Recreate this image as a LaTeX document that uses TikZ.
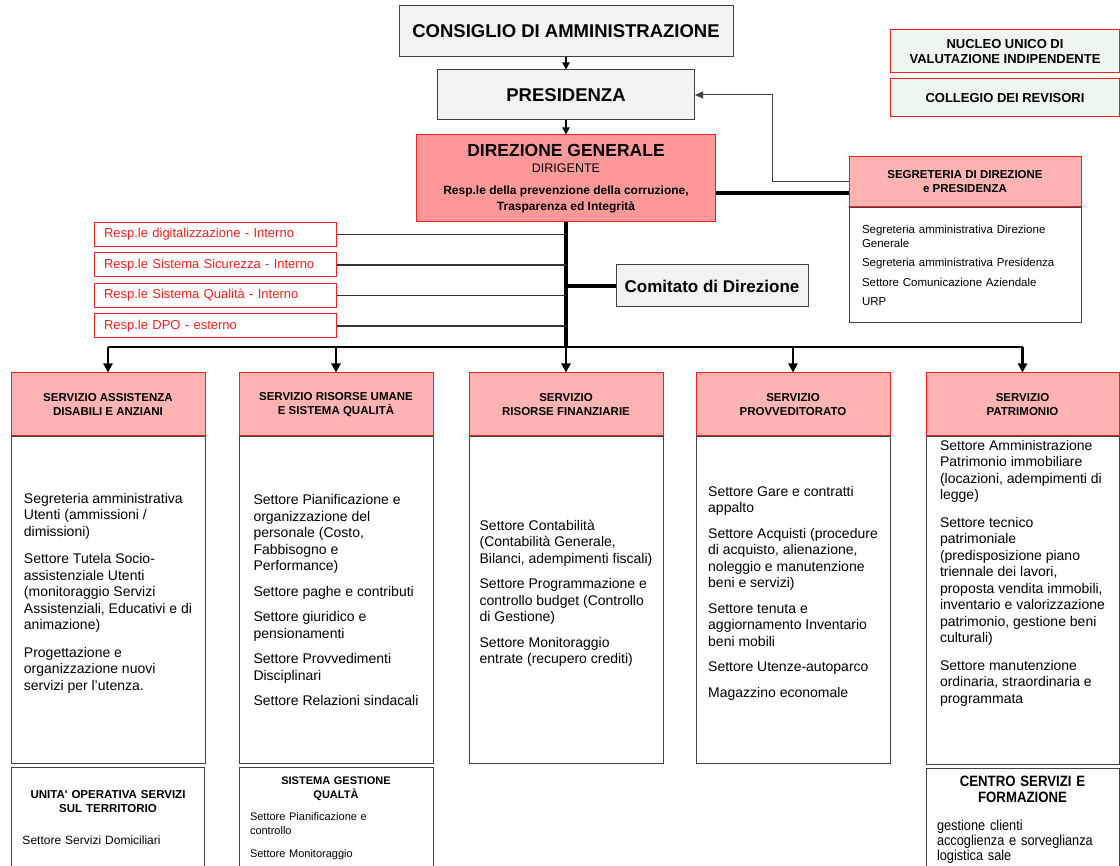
\documentclass[tikz,border=0pt]{standalone}
\usepackage{fontspec}
\setmainfont{Liberation Sans}
\newfontfamily\narrowfont[FakeStretch=0.88]{Liberation Sans}
\usepackage{tikz}
\usetikzlibrary{positioning,arrows.meta}
\usepackage{xcolor}
\definecolor{framegray}{HTML}{404040}
\definecolor{topgray}{HTML}{F2F2F2}
\definecolor{dgred}{HTML}{FF9999}
\definecolor{servpink}{HTML}{FFB3B3}
\definecolor{mint}{HTML}{EEF6F0}
\definecolor{boxred}{HTML}{F02020}

\begin{document}
\begin{tikzpicture}[x=1pt, y=-1pt,
    topbox/.style={rectangle, draw=framegray, fill=topgray, line width=1pt, font=\bfseries\fontsize{18.5}{20}\selectfont},
    dgbox/.style={rectangle, draw=boxred, fill=dgred, line width=1pt, align=center, font=\bfseries\fontsize{12}{16}\selectfont},
    pinkbox/.style={rectangle, draw=boxred, fill=servpink, line width=1pt, minimum width=194pt, minimum height=63pt, align=center, font=\bfseries\fontsize{11.5}{14}\selectfont},
    listbox/.style={rectangle, draw=framegray, fill=white, line width=1pt, minimum width=194pt, minimum height=326pt, align=left, font=\fontsize{14}{16.5}\selectfont},
    subbox/.style={rectangle, draw=framegray, line width=1pt, text width=171pt, inner xsep=11pt, minimum height=102pt, align=left, font=\fontsize{12}{14}\selectfont},
    respbox/.style={rectangle, draw=boxred, text=boxred, line width=1pt, text width=222pt, inner xsep=10pt, inner ysep=0pt, minimum height=24pt, align=left, font=\fontsize{13}{15}\selectfont},
    greenbox/.style={rectangle, draw=boxred, fill=mint, line width=1pt, minimum width=229pt, align=center, font=\bfseries\fontsize{13}{15}\selectfont},
    arrow/.style={-{Triangle[length=9pt,width=9pt]}, line width=2.2pt},
    smallarrow/.style={-{Triangle[length=7pt,width=7pt]}, line width=1.8pt},
    thinarrow/.style={-{Triangle[length=8pt,width=7pt]}, line width=1pt, draw=framegray},
    link/.style={line width=1.3pt, draw=black!80},
    thickline/.style={line width=3.5pt}
]
    \fill[white] (0,0) rectangle (1120,866);
    \useasboundingbox (0,0) rectangle (1120,866);

    % top of the chart
    \node[topbox, minimum width=334pt, minimum height=51pt] (cda) at (566,31.5) {CONSIGLIO DI AMMINISTRAZIONE};
    \node[topbox, minimum width=257pt, minimum height=50pt] (pres) at (566,95) {PRESIDENZA};
    \node[dgbox, minimum width=299pt, minimum height=87pt] (dg) at (566,178.5)
        {{\fontsize{17.5}{20}\selectfont DIREZIONE GENERALE}\\
         {\mdseries\fontsize{12.5}{14}\selectfont DIRIGENTE}\\[6pt]
         Resp.le della prevenzione della corruzione,\\
         Trasparenza ed Integrità};

    \node[greenbox, minimum height=43pt] (nucleo) at (1005,51.5) {NUCLEO UNICO DI\\VALUTAZIONE INDIPENDENTE};
    \node[greenbox, minimum height=38pt] (collegio) at (1005,98) {COLLEGIO DEI REVISORI};

    \node[pinkbox, minimum width=232pt, minimum height=50pt] (segr) at (965,182) {SEGRETERIA DI DIREZIONE\\e PRESIDENZA};
    \node[listbox, minimum width=232pt, minimum height=115pt, text width=206pt, inner xsep=13pt, font=\fontsize{11.5}{14}\selectfont, below=0pt of segr] (segrlist)
        {Segreteria amministrativa Direzione\\Generale\\[5.5pt]
         Segreteria amministrativa Presidenza\\[5.5pt]
         Settore Comunicazione Aziendale\\[5.5pt]
         URP};

    \node[respbox] (digit) at (215,234.5) {Resp.le digitalizzazione - Interno};
    \node[respbox, below=5.5pt of digit] (sicur) {Resp.le Sistema Sicurezza - Interno};
    \node[respbox, below=5.5pt of sicur] (qualita) {Resp.le Sistema Qualità - Interno};
    \node[respbox, below=5.5pt of qualita] (dpo) {Resp.le DPO - esterno};

    \node[topbox, minimum width=192pt, minimum height=42pt, font=\bfseries\fontsize{17}{19}\selectfont] (comitato) at (712,286) {Comitato di Direzione};

    % servizi
    \node[pinkbox] (assist) at (108,404.5) {SERVIZIO ASSISTENZA\\DISABILI E ANZIANI};
    \node[pinkbox] (risum) at (336,404.5) {SERVIZIO RISORSE UMANE\\E SISTEMA QUALITÀ};
    \node[pinkbox] (risfin) at (566,404.5) {SERVIZIO\\RISORSE FINANZIARIE};
    \node[pinkbox] (provv) at (793,404.5) {SERVIZIO\\PROVVEDITORATO};
    \node[pinkbox, minimum width=193pt] (patr) at (1022.5,404.5) {SERVIZIO\\PATRIMONIO};

    \node[listbox, below=0pt of assist] (assistlist)
        {Segreteria amministrativa\\Utenti (ammissioni /\\dimissioni)\\[11pt]
         Settore Tutela Socio-\\assistenziale Utenti\\(monitoraggio Servizi\\Assistenziali, Educativi e di\\animazione)\\[11pt]
         Progettazione e\\organizzazione nuovi\\servizi per l'utenza.\\\mbox{}};
    \node[listbox, below=0pt of risum] (risumlist)
        {Settore Pianificazione e\\organizzazione del\\personale (Costo,\\Fabbisogno e\\Performance)\\[9pt]
         Settore paghe e contributi\\[9pt]
         Settore giuridico e\\pensionamenti\\[9pt]
         Settore Provvedimenti\\Disciplinari\\[9pt]
         Settore Relazioni sindacali};
    \node[listbox, below=0pt of risfin] (risfinlist)
        {Settore Contabilità\\(Contabilità Generale,\\Bilanci, adempimenti fiscali)\\[9pt]
         Settore Programmazione e\\controllo budget (Controllo\\di Gestione)\\[9pt]
         Settore Monitoraggio\\entrate (recupero crediti)\\\mbox{}};
    \node[listbox, below=0pt of provv] (provvlist)
        {Settore Gare e contratti\\appalto\\[9pt]
         Settore Acquisti (procedure\\di acquisto, alienazione,\\noleggio e manutenzione\\beni e servizi)\\[9pt]
         Settore tenuta e\\aggiornamento Inventario\\beni mobili\\[9pt]
         Settore Utenze-autoparco\\[9pt]
         Magazzino economale\\\mbox{}};
    \node[listbox, minimum width=193pt, below=0pt of patr] (patrlist)
        {Settore Amministrazione\\Patrimonio immobiliare\\(locazioni, adempimenti di\\legge)\\[11pt]
         Settore tecnico\\patrimoniale\\(predisposizione piano\\triennale dei lavori,\\proposta vendita immobili,\\inventario e valorizzazione\\patrimonio, gestione beni\\culturali)\\[11pt]
         Settore manutenzione\\ordinaria, straordinaria e\\programmata\\[41pt]\mbox{}};

    \node[subbox, text width=171pt, below=3pt of assistlist] (uot)
        {{\centering\bfseries\fontsize{11.5}{14}\selectfont UNITA\textquotesingle{} OPERATIVA SERVIZI\\SUL TERRITORIO\par}
         \vspace{18pt}
         Settore Servizi Domiciliari};
    \node[subbox, text width=172pt, below=3pt of risumlist, font=\fontsize{11}{14}\selectfont] (sgq)
        {{\centering\bfseries SISTEMA GESTIONE\\QUALTÀ\par}
         \vspace{8pt}
         Settore Pianificazione e\\controllo\par
         \vspace{9pt}
         Settore Monitoraggio};
    \node[subbox, below=3pt of patrlist, font=\narrowfont\fontsize{14.5}{15}\selectfont] (csf)
        {{\centering\bfseries\fontsize{15}{16}\selectfont CENTRO SERVIZI E\\FORMAZIONE\par}
         \vspace{13pt}
         gestione clienti\\accoglienza e sorveglianza\\logistica sale};

    % connectors
    \coordinate (bus) at (566,347);
    \draw[smallarrow] (cda.south) -- (pres.north);
    \draw[smallarrow] (pres.south) -- (dg.north);
    \draw[thickline] (dg.south) -- (bus);
    \draw[thickline] ([yshift=-14.5pt]dg.east) -- ([yshift=-14.5pt]dg.east -| segr.west);
    \draw[thinarrow] (segr.west) -- ++(-76,0) |- (pres.east);
    \draw[link] (digit.east) -- (digit.east -| bus);
    \draw[link] (sicur.east) -- (sicur.east -| bus);
    \draw[link] (qualita.east) -- (qualita.east -| bus);
    \draw[link] (dpo.east) -- (dpo.east -| bus);
    \draw[thickline] (comitato.west -| bus) -- (comitato.west);
    \draw[line width=2.5pt] (assist.north |- bus) -- (patr.north |- bus);
    \draw[arrow] (assist.north |- bus) -- (assist.north);
    \draw[arrow] (risum.north |- bus) -- (risum.north);
    \draw[arrow] (bus) -- (risfin.north);
    \draw[arrow] (provv.north |- bus) -- (provv.north);
    \draw[arrow] (patr.north |- bus) -- (patr.north);
\end{tikzpicture}
\end{document}
